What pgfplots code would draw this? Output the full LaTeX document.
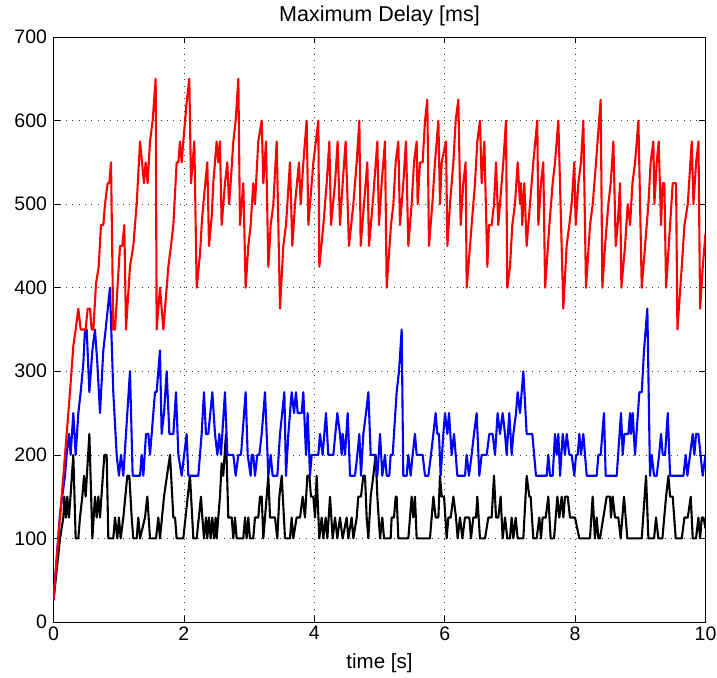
\documentclass[border=0pt]{standalone}
\usepackage{fontspec}
\setmainfont{Liberation Sans}
\usepackage{pgfplots}
\pgfplotsset{compat=1.18}
\begin{document}
\begin{tikzpicture}[x=1pt,y=1pt]
\path[use as bounding box] (-53.5,-55) rectangle (663.5,622);
\begin{axis}[
  at={(0,0)}, anchor=south west,
  width=652pt, height=585pt, scale only axis,
  xmin=0, xmax=10, ymin=0, ymax=700,
  xtick={0,2,...,10}, ytick={0,100,...,700},
  grid=major,
  major grid style={black!75, line width=0.5pt, dash pattern=on 0.8pt off 5.5pt},
  tick align=inside, tick pos=both, major tick length=6.5pt,
  tick style={black, line width=0.6pt},
  axis line style={black, line width=0.8pt},
  /pgf/number format/assume math mode=true,
  every tick label/.append style={font=\fontsize{19.5}{23}\selectfont},
  yticklabel style={xshift=-3pt},
  xticklabel style={yshift=-1pt},
  title={Maximum Delay [ms]},
  title style={font=\fontsize{21.5}{25}\selectfont, yshift=2pt},
  xlabel={time [s]},
  xlabel style={font=\fontsize{20.5}{24}\selectfont, yshift=-6pt},
  every axis plot/.append style={line width=2.1pt, line join=round, mark=none},
]
\addplot[black] coordinates {
(0,26)(0.100,100)(0.151,125)(0.166,150)(0.192,125)(0.212,150)(0.238,125)(0.278,170)(0.304,200)(0.340,100)(0.381,100)(0.406,125)(0.442,150)(0.468,175)(0.493,150)(0.550,225)(0.596,100)(0.636,150)(0.662,125)(0.688,150)(0.713,125)(0.780,200)(0.815,200)(0.841,100)(0.917,100)(0.943,125)(0.979,100)(1.004,125)(1.030,100)(1.071,125)(1.132,175)(1.163,175)(1.199,125)(1.224,100)(1.276,100)(1.301,125)(1.327,100)(1.403,125)(1.439,150)(1.480,100)(1.572,100)(1.608,125)(1.633,100)(1.695,150)(1.787,200)(1.838,125)(1.864,125)(1.889,100)(1.991,100)(2.093,175)(2.145,100)(2.196,100)(2.262,150)(2.283,125)(2.308,100)(2.339,125)(2.359,100)(2.385,125)(2.410,100)(2.436,125)(2.462,100)(2.487,125)(2.502,100)(2.553,150)(2.579,190)(2.604,175)(2.645,225)(2.681,125)(2.733,125)(2.758,100)(2.784,125)(2.809,100)(2.911,100)(2.937,125)(2.962,100)(2.988,125)(3.013,100)(3.064,100)(3.090,125)(3.141,125)(3.167,150)(3.193,150)(3.218,100)(3.244,125)(3.295,175)(3.321,125)(3.397,125)(3.433,100)(3.464,150)(3.500,175)(3.551,100)(3.627,100)(3.653,125)(3.678,100)(3.729,125)(3.781,125)(3.822,150)(3.857,125)(3.893,175)(3.924,175)(3.949,150)(3.985,150)(4.011,125)(4.036,175)(4.077,100)(4.113,125)(4.139,100)(4.174,125)(4.200,100)(4.241,150)(4.282,100)(4.318,125)(4.353,100)(4.394,125)(4.435,100)(4.496,125)(4.522,100)(4.573,125)(4.599,100)(4.650,125)(4.675,150)(4.716,150)(4.752,175)(4.778,175)(4.803,125)(4.829,100)(4.865,150)(4.905,175)(4.941,200)(4.967,150)(5.008,100)(5.043,125)(5.069,100)(5.171,100)(5.186,125)(5.222,125)(5.248,150)(5.263,150)(5.289,100)(5.442,100)(5.468,125)(5.493,150)(5.519,125)(5.544,150)(5.570,100)(5.774,100)(5.826,150)(5.861,125)(5.903,125)(5.928,175)(5.954,150)(5.990,150)(6.030,100)(6.056,125)(6.092,125)(6.133,150)(6.174,125)(6.199,100)(6.235,125)(6.271,100)(6.311,125)(6.378,125)(6.403,100)(6.439,125)(6.480,125)(6.500,150)(6.541,100)(6.618,100)(6.669,125)(6.720,125)(6.756,175)(6.787,125)(6.822,125)(6.858,150)(6.889,100)(6.925,125)(6.960,100)(7.001,100)(7.027,125)(7.053,100)(7.088,125)(7.119,100)(7.206,100)(7.257,175)(7.298,150)(7.318,150)(7.359,100)(7.410,100)(7.451,125)(7.477,100)(7.502,125)(7.549,125)(7.589,150)(7.625,100)(7.677,100)(7.728,150)(7.758,125)(7.794,150)(7.820,125)(7.845,150)(7.886,150)(7.922,125)(7.998,125)(8.065,100)(8.228,100)(8.269,150)(8.305,100)(8.331,125)(8.357,100)(8.382,100)(8.433,125)(8.484,150)(8.536,150)(8.551,125)(8.576,150)(8.612,125)(8.663,125)(8.699,100)(8.750,150)(8.801,100)(9.022,100)(9.088,175)(9.124,100)(9.211,100)(9.241,125)(9.277,100)(9.339,100)(9.395,150)(9.431,175)(9.457,150)(9.497,150)(9.543,100)(9.636,100)(9.677,125)(9.728,125)(9.774,150)(9.804,100)(9.855,100)(9.891,125)(9.917,100)(9.943,125)(9.968,125)(10,112)
};
\addplot[blue] coordinates {
(0,26)(0.100,130)(0.176,175)(0.202,200)(0.238,225)(0.263,200)(0.304,250)(0.340,200)(0.381,250)(0.417,275)(0.458,310)(0.483,350)(0.509,350)(0.550,275)(0.596,325)(0.636,350)(0.672,310)(0.713,250)(0.764,325)(0.800,350)(0.866,400)(0.917,275)(0.969,200)(1.004,175)(1.035,200)(1.071,175)(1.112,225)(1.173,300)(1.214,175)(1.327,175)(1.352,200)(1.378,175)(1.419,225)(1.455,225)(1.480,200)(1.557,275)(1.582,275)(1.633,325)(1.659,225)(1.695,250)(1.736,300)(1.777,225)(1.838,225)(1.879,275)(1.915,200)(1.966,175)(2.042,225)(2.068,175)(2.221,175)(2.272,225)(2.308,275)(2.339,225)(2.374,225)(2.436,275)(2.477,225)(2.513,200)(2.543,225)(2.569,200)(2.630,275)(2.666,200)(2.758,200)(2.794,175)(2.835,200)(2.876,200)(2.947,275)(2.978,200)(3.024,175)(3.039,200)(3.064,200)(3.090,175)(3.126,200)(3.157,200)(3.193,225)(3.244,275)(3.295,175)(3.331,200)(3.361,175)(3.433,175)(3.474,225)(3.541,275)(3.566,175)(3.602,225)(3.653,275)(3.689,250)(3.719,275)(3.745,250)(3.806,250)(3.832,275)(3.873,200)(3.898,250)(3.934,175)(3.960,200)(4.062,200)(4.087,225)(4.128,200)(4.179,250)(4.215,200)(4.292,200)(4.353,250)(4.394,225)(4.420,200)(4.435,225)(4.471,200)(4.512,250)(4.548,175)(4.624,175)(4.660,200)(4.691,225)(4.716,175)(4.752,225)(4.793,250)(4.829,275)(4.865,200)(4.931,200)(4.967,175)(5.008,225)(5.043,175)(5.084,200)(5.110,175)(5.150,175)(5.171,200)(5.202,200)(5.263,275)(5.299,300)(5.340,350)(5.365,175)(5.417,175)(5.442,200)(5.478,175)(5.508,200)(5.544,225)(5.570,200)(5.662,200)(5.698,175)(5.749,175)(5.790,200)(5.826,225)(5.861,250)(5.887,225)(5.912,225)(5.938,175)(5.979,225)(6.005,250)(6.041,225)(6.066,250)(6.107,200)(6.143,225)(6.194,175)(6.311,175)(6.337,200)(6.372,175)(6.413,200)(6.449,225)(6.490,250)(6.531,175)(6.567,200)(6.644,200)(6.684,225)(6.735,225)(6.771,200)(6.812,250)(6.848,225)(6.889,250)(6.925,225)(6.950,200)(6.991,250)(7.027,200)(7.053,225)(7.094,250)(7.119,275)(7.155,250)(7.206,300)(7.257,225)(7.344,225)(7.400,175)(7.564,175)(7.589,200)(7.615,175)(7.656,175)(7.692,225)(7.718,200)(7.743,225)(7.769,175)(7.810,225)(7.845,200)(7.871,225)(7.912,200)(7.947,200)(7.988,175)(8.014,200)(8.040,200)(8.065,225)(8.091,200)(8.126,225)(8.178,175)(8.331,175)(8.357,200)(8.392,200)(8.443,250)(8.469,175)(8.638,175)(8.704,250)(8.730,200)(8.755,225)(8.817,225)(8.842,250)(8.858,225)(8.883,250)(8.919,200)(8.986,275)(9.022,275)(9.057,325)(9.108,375)(9.149,175)(9.175,200)(9.211,175)(9.252,175)(9.288,200)(9.318,225)(9.344,200)(9.380,200)(9.421,250)(9.457,175)(9.661,175)(9.697,200)(9.722,175)(9.763,200)(9.804,225)(9.829,200)(9.855,225)(9.891,225)(9.957,175)(10,200)
};
\addplot[red] coordinates {
(0,26)(0.074,100)(0.125,150)(0.202,225)(0.253,275)(0.304,330)(0.340,350)(0.381,375)(0.417,350)(0.493,350)(0.524,375)(0.560,375)(0.585,350)(0.611,350)(0.652,405)(0.693,425)(0.728,475)(0.764,475)(0.790,500)(0.831,525)(0.856,525)(0.882,550)(0.917,350)(0.943,350)(1.020,450)(1.056,450)(1.086,475)(1.112,350)(1.173,425)(1.224,450)(1.276,500)(1.327,575)(1.388,525)(1.413,550)(1.444,525)(1.480,575)(1.521,600)(1.567,650)(1.582,350)(1.633,400)(1.685,350)(1.761,425)(1.802,450)(1.838,475)(1.889,550)(1.915,550)(1.940,575)(1.966,550)(1.991,575)(2.040,620)(2.083,650)(2.109,525)(2.160,575)(2.196,400)(2.247,440)(2.272,475)(2.298,500)(2.359,550)(2.385,450)(2.426,485)(2.451,525)(2.502,575)(2.528,550)(2.553,575)(2.579,475)(2.630,525)(2.666,550)(2.692,500)(2.717,525)(2.758,575)(2.794,600)(2.835,650)(2.860,475)(2.911,525)(2.947,400)(2.988,450)(3.024,475)(3.064,525)(3.090,500)(3.141,575)(3.193,600)(3.218,525)(3.259,575)(3.295,425)(3.331,475)(3.372,500)(3.423,575)(3.474,375)(3.525,450)(3.566,475)(3.627,550)(3.663,450)(3.704,500)(3.765,550)(3.791,500)(3.832,550)(3.883,600)(3.909,475)(3.960,525)(3.986,550)(4.062,600)(4.077,425)(4.139,475)(4.190,525)(4.231,575)(4.256,475)(4.318,525)(4.358,575)(4.394,475)(4.435,525)(4.481,575)(4.532,450)(4.599,500)(4.650,550)(4.691,600)(4.711,450)(4.762,500)(4.813,550)(4.839,450)(4.905,510)(4.967,575)(4.992,475)(5.033,525)(5.084,575)(5.110,400)(5.176,475)(5.212,500)(5.248,550)(5.289,575)(5.314,475)(5.365,525)(5.406,575)(5.442,450)(5.493,500)(5.529,550)(5.570,575)(5.585,500)(5.621,550)(5.662,550)(5.698,600)(5.733,625)(5.759,450)(5.810,500)(5.851,550)(5.903,600)(5.928,500)(5.954,550)(6.020,575)(6.041,450)(6.081,500)(6.133,550)(6.168,600)(6.209,625)(6.245,475)(6.285,525)(6.321,550)(6.337,400)(6.388,450)(6.413,475)(6.465,525)(6.500,575)(6.541,600)(6.567,525)(6.608,575)(6.654,425)(6.679,475)(6.720,475)(6.756,500)(6.787,550)(6.822,475)(6.873,525)(6.899,550)(6.940,600)(6.960,400)(7.001,425)(7.037,475)(7.078,500)(7.119,550)(7.155,500)(7.170,525)(7.190,475)(7.221,525)(7.257,450)(7.308,500)(7.359,550)(7.420,600)(7.436,475)(7.477,525)(7.512,550)(7.540,400)(7.605,475)(7.656,525)(7.692,550)(7.743,600)(7.819,375)(7.870,450)(7.911,475)(7.947,500)(7.988,550)(8.009,475)(8.050,525)(8.090,550)(8.126,600)(8.167,400)(8.229,475)(8.270,500)(8.321,550)(8.392,625)(8.418,400)(8.459,450)(8.510,500)(8.546,525)(8.587,575)(8.623,450)(8.653,475)(8.689,525)(8.710,400)(8.766,450)(8.807,500)(8.843,475)(8.879,525)(8.920,550)(8.971,600)(9.022,400)(9.073,450)(9.124,500)(9.159,550)(9.200,575)(9.216,500)(9.252,550)(9.282,575)(9.318,475)(9.344,525)(9.369,525)(9.395,400)(9.457,475)(9.497,525)(9.549,525)(9.569,350)(9.636,425)(9.677,475)(9.728,500)(9.789,575)(9.815,500)(9.856,550)(9.892,575)(9.917,375)(9.958,425)(10,465)
};
\end{axis}
\end{tikzpicture}
\end{document}
